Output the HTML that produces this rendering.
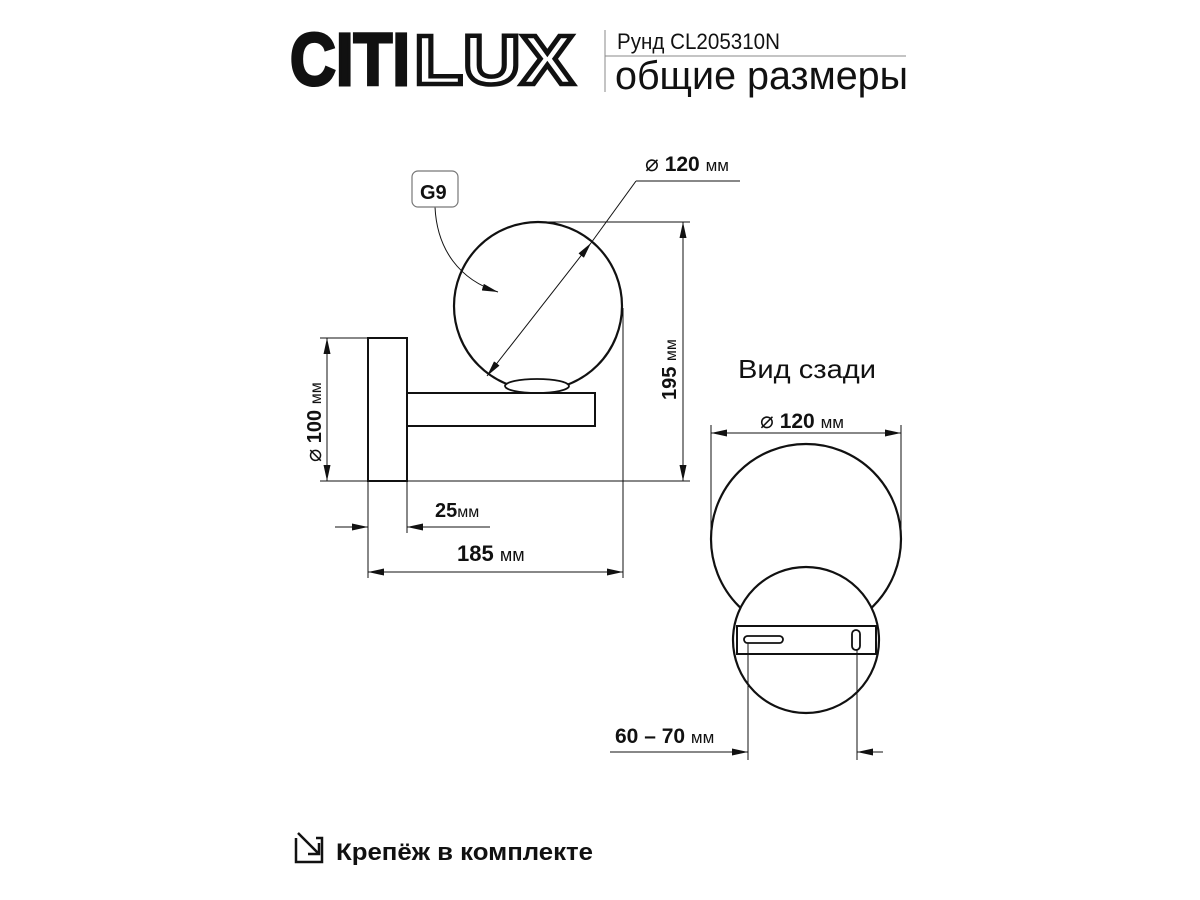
<!DOCTYPE html>
<html><head><meta charset="utf-8"><style>
body{margin:0;background:#fff;width:1200px;height:900px;overflow:hidden}
svg{display:block}
text{font-family:"Liberation Sans",sans-serif;fill:#111}
</style></head><body>
<svg width="1200" height="900" viewBox="0 0 1200 900" xmlns="http://www.w3.org/2000/svg">
<defs>
<marker id="a" viewBox="0 0 16 7" refX="16" refY="3.5" markerWidth="16" markerHeight="7" markerUnits="userSpaceOnUse" orient="auto-start-reverse"><path d="M0,0L16,3.5L0,7Z" fill="#111"/></marker>
</defs>
<text x="290" y="85" font-size="74" font-weight="bold" textLength="120" lengthAdjust="spacingAndGlyphs" stroke="#111" stroke-width="3">CITI</text>
<text x="414" y="84" font-size="70" font-weight="bold" stroke="#111" stroke-width="4.5" textLength="160" lengthAdjust="spacingAndGlyphs" style="fill:#fff">LUX</text>
<line x1="605" y1="30" x2="605" y2="92" stroke="#888" stroke-width="1"/>
<line x1="605" y1="56" x2="906" y2="56" stroke="#888" stroke-width="1"/>
<text x="617" y="49" font-size="22" textLength="163" lengthAdjust="spacingAndGlyphs">Рунд CL205310N</text>
<text x="615" y="89" font-size="40" textLength="293" lengthAdjust="spacingAndGlyphs">общие размеры</text>

<g fill="none" stroke="#111">
<circle cx="538" cy="306" r="84" stroke-width="2.2"/>
<ellipse cx="537" cy="386" rx="32" ry="7" fill="#fff" stroke-width="1.8"/>
<rect x="407" y="393" width="188" height="33" fill="#fff" stroke-width="2"/>
<rect x="368" y="338" width="39" height="143" fill="#fff" stroke-width="2"/>
<g stroke-width="1">
<line x1="320" y1="481" x2="690" y2="481"/>
<line x1="320" y1="338" x2="368" y2="338"/>
<line x1="538" y1="222" x2="690" y2="222"/>
<line x1="623" y1="308" x2="623" y2="578"/>
<line x1="368" y1="481" x2="368" y2="578"/>
<line x1="407" y1="481" x2="407" y2="533"/>
<line x1="683" y1="222" x2="683" y2="481" marker-start="url(#a)" marker-end="url(#a)"/>
<line x1="327" y1="338" x2="327" y2="481" marker-start="url(#a)" marker-end="url(#a)"/>
<line x1="335" y1="527" x2="368" y2="527" marker-end="url(#a)"/>
<line x1="490" y1="527" x2="407" y2="527" marker-end="url(#a)"/>
<line x1="368" y1="572" x2="623" y2="572" marker-start="url(#a)" marker-end="url(#a)"/>
<line x1="487" y1="376" x2="591" y2="243" marker-start="url(#a)" marker-end="url(#a)"/>
<line x1="591" y1="243" x2="636" y2="181"/>
<line x1="636" y1="181" x2="740" y2="181"/>
<path d="M435,207 C437,250 460,280 498,292" marker-end="url(#a)"/>
</g>
<rect x="412" y="171" width="46" height="36" rx="6" stroke="#777" stroke-width="1.2"/>
<circle cx="806" cy="539" r="95" stroke-width="2.2"/>
<circle cx="806" cy="640" r="73" fill="#fff" stroke-width="2.2"/>
<rect x="737" y="626" width="139" height="28" fill="#fff" stroke-width="2"/>
<rect x="744" y="636" width="39" height="7" rx="3.5" stroke-width="1.8"/>
<rect x="852" y="630" width="8" height="20" rx="4" stroke-width="1.8"/>
<g stroke-width="1">
<line x1="711" y1="425" x2="711" y2="540"/>
<line x1="901" y1="425" x2="901" y2="540"/>
<line x1="711" y1="433" x2="901" y2="433" marker-start="url(#a)" marker-end="url(#a)"/>
<line x1="748" y1="643" x2="748" y2="760"/>
<line x1="857" y1="650" x2="857" y2="760"/>
<line x1="610" y1="752" x2="748" y2="752" marker-end="url(#a)"/>
<line x1="883" y1="752" x2="857" y2="752" marker-end="url(#a)"/>
</g>
<path d="M296,838 V862 H322 V838 H316" stroke-width="2.5"/>
<path d="M298,833 L319,854 M319,843 V854 H308" stroke-width="2.5"/>
</g>

<text x="420" y="199" font-size="20" font-weight="bold">G9</text>
<text x="645" y="171" font-size="21"><tspan font-size="23">⌀</tspan> <tspan font-weight="bold">120</tspan> <tspan font-size="17">мм</tspan></text>
<text transform="translate(676,400) rotate(-90)" font-size="20"><tspan font-weight="bold">195</tspan> <tspan font-size="16">мм</tspan></text>
<text transform="translate(321,462) rotate(-90)" font-size="20"><tspan font-size="22">⌀</tspan> <tspan font-weight="bold">100</tspan> <tspan font-size="16">мм</tspan></text>
<text x="435" y="517" font-size="20"><tspan font-weight="bold">25</tspan><tspan font-size="16">мм</tspan></text>
<text x="457" y="561" font-size="22"><tspan font-weight="bold">185</tspan> <tspan font-size="18">мм</tspan></text>
<text x="738" y="378" font-size="26" textLength="138" lengthAdjust="spacingAndGlyphs">Вид сзади</text>
<text x="760" y="428" font-size="21"><tspan font-size="23">⌀</tspan> <tspan font-weight="bold">120</tspan> <tspan font-size="17">мм</tspan></text>
<text x="615" y="743" font-size="21"><tspan font-weight="bold">60 – 70</tspan> <tspan font-size="17">мм</tspan></text>
<text x="336" y="860" font-size="24" font-weight="bold" textLength="257" lengthAdjust="spacingAndGlyphs">Крепёж в комплекте</text>
</svg>
</body></html>
